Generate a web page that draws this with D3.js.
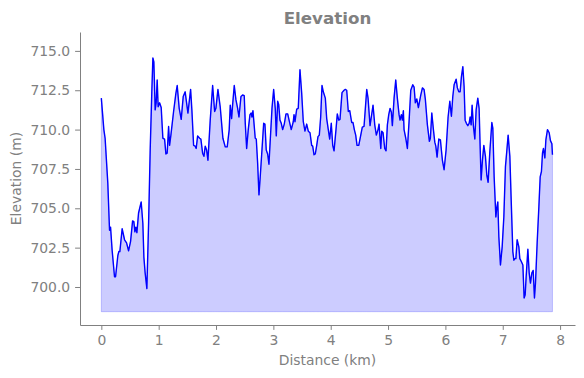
<!DOCTYPE html>
<html>
<head>
<meta charset="utf-8">
<script src="https://cdn.jsdelivr.net/npm/d3@7"></script>
<style>
  body { margin: 0; background: #fff; }
  text { font-family: "DejaVu Sans", sans-serif; }
</style>
</head>
<body>
<div id="chart"></div>
<script>
// distance along the route (km)
const distanceKm = [
  0.000, 0.044, 0.066, 0.113, 0.143, 0.161, 0.188, 0.230, 0.248, 0.288,
  0.305, 0.323, 0.363, 0.405, 0.440, 0.475, 0.510, 0.545, 0.567, 0.585,
  0.602, 0.620, 0.649, 0.695, 0.724, 0.742, 0.764, 0.794, 0.824, 0.852,
  0.881, 0.899, 0.916, 0.939, 0.956, 0.974, 0.991, 1.016, 1.044, 1.073,
  1.103, 1.126, 1.148, 1.173, 1.190, 1.213, 1.260, 1.300, 1.323, 1.358,
  1.393, 1.428, 1.462, 1.510, 1.557, 1.579, 1.609, 1.637, 1.654, 1.679,
  1.714, 1.736, 1.766, 1.789, 1.812, 1.836, 1.859, 1.899, 1.941, 1.976,
  1.998, 2.033, 2.073, 2.120, 2.161, 2.195, 2.230, 2.248, 2.272, 2.290,
  2.318, 2.347, 2.377, 2.400, 2.435, 2.464, 2.492, 2.510, 2.534, 2.562,
  2.592, 2.614, 2.627, 2.644, 2.667, 2.684, 2.702, 2.726, 2.749, 2.771,
  2.801, 2.831, 2.853, 2.876, 2.900, 2.923, 2.946, 2.976, 3.005, 3.033,
  3.051, 3.075, 3.093, 3.115, 3.138, 3.162, 3.190, 3.220, 3.250, 3.277,
  3.312, 3.347, 3.360, 3.377, 3.407, 3.434, 3.464, 3.494, 3.522, 3.551,
  3.581, 3.609, 3.639, 3.668, 3.686, 3.709, 3.731, 3.756, 3.778, 3.801,
  3.825, 3.848, 3.871, 3.906, 3.930, 3.958, 3.982, 4.010, 4.035, 4.058,
  4.092, 4.115, 4.140, 4.162, 4.197, 4.232, 4.255, 4.279, 4.307, 4.332,
  4.366, 4.389, 4.412, 4.436, 4.459, 4.489, 4.524, 4.551, 4.581, 4.628,
  4.651, 4.686, 4.708, 4.738, 4.768, 4.796, 4.825, 4.843, 4.873, 4.890,
  4.913, 4.942, 4.965, 4.988, 5.012, 5.035, 5.058, 5.075, 5.105, 5.134,
  5.162, 5.192, 5.209, 5.232, 5.250, 5.267, 5.279, 5.309, 5.337, 5.366,
  5.396, 5.431, 5.454, 5.476, 5.501, 5.529, 5.571, 5.599, 5.628, 5.651,
  5.686, 5.721, 5.738, 5.763, 5.791, 5.815, 5.833, 5.855, 5.885, 5.913,
  5.930, 5.948, 5.977, 6.012, 6.047, 6.077, 6.105, 6.129, 6.152, 6.187,
  6.209, 6.234, 6.257, 6.279, 6.304, 6.326, 6.344, 6.366, 6.391, 6.414,
  6.431, 6.449, 6.466, 6.489, 6.513, 6.536, 6.565, 6.588, 6.606, 6.623,
  6.646, 6.670, 6.698, 6.722, 6.745, 6.775, 6.810, 6.827, 6.850, 6.880,
  6.897, 6.914, 6.932, 6.960, 6.990, 7.019, 7.047, 7.072, 7.094, 7.124,
  7.147, 7.176, 7.194, 7.211, 7.229, 7.251, 7.281, 7.298, 7.326, 7.351,
  7.373, 7.391, 7.408, 7.438, 7.461, 7.483, 7.508, 7.531, 7.553, 7.571,
  7.600, 7.630, 7.653, 7.675, 7.693, 7.710, 7.734, 7.752, 7.780, 7.810,
  7.832, 7.857, 7.867
];

// elevation at each point (m)
const elevationM = [
  712.0, 710.0, 709.45, 706.6, 703.6, 703.8, 702.35, 700.65, 700.65, 702.0,
  702.25, 702.25, 703.7, 703.0, 702.8, 702.3, 702.9, 704.2, 704.15, 703.5,
  703.8, 703.45, 704.7, 705.4, 704.05, 701.9, 700.9, 699.9, 704.05, 708.7,
  712.5, 714.55, 714.3, 711.25, 711.7, 713.15, 711.45, 711.7, 711.4, 709.45,
  709.4, 708.45, 708.5, 710.2, 709.0, 709.65, 711.15, 712.3, 712.8, 711.35,
  710.65, 712.1, 712.4, 711.05, 712.55, 711.25, 709.0, 708.95, 708.8, 709.6,
  709.45, 709.4, 708.5, 708.3, 708.95, 708.7, 708.05, 710.6, 712.8, 711.15,
  711.35, 712.55, 711.45, 709.45, 708.9, 708.9, 710.0, 711.55, 710.7, 711.6,
  712.8, 711.9, 711.35, 710.8, 712.1, 712.2, 712.15, 710.4, 708.8, 710.0,
  710.95, 711.05, 710.8, 711.2, 710.2, 709.45, 709.4, 707.85, 705.85, 707.0,
  708.7, 710.4, 710.35, 708.7, 708.45, 707.8, 709.35, 711.35, 712.55, 711.35,
  709.6, 711.8, 711.6, 710.6, 710.4, 710.0, 710.35, 711.0, 711.0, 710.55,
  710.0, 710.5, 710.95, 710.5, 711.3, 711.35, 713.8, 712.3, 710.5, 709.9,
  710.35, 709.9, 709.8, 709.0, 708.95, 708.4, 708.45, 709.0, 709.55, 709.65,
  710.8, 712.8, 712.4, 712.0, 710.7, 710.0, 709.4, 710.4, 709.0, 708.65,
  710.0, 711.0, 710.6, 710.65, 712.35, 712.5, 712.55, 712.5, 711.15, 711.2,
  710.45, 710.45, 710.0, 709.65, 709.0, 709.0, 709.65, 710.15, 710.2, 712.55,
  712.0, 710.25, 710.8, 711.55, 710.3, 709.65, 710.0, 710.35, 708.8, 709.9,
  709.8, 708.8, 708.65, 710.3, 710.95, 711.35, 711.1, 710.25, 712.0, 713.15,
  712.0, 710.95, 710.6, 710.95, 710.6, 711.2, 710.0, 709.45, 708.8, 710.5,
  712.5, 712.85, 712.7, 711.7, 711.95, 711.4, 712.2, 712.65, 712.55, 711.9,
  710.3, 709.25, 709.45, 711.05, 710.0, 709.2, 708.95, 708.25, 709.4, 709.35,
  708.7, 708.05, 707.45, 708.7, 710.8, 711.8, 710.85, 712.1, 712.85, 713.2,
  712.65, 712.4, 712.4, 713.35, 714.0, 712.75, 710.6, 710.4, 710.25, 710.4,
  710.8, 710.3, 711.55, 710.2, 709.4, 711.25, 712.0, 711.35, 708.9, 706.8,
  708.05, 709.0, 708.3, 707.1, 706.65, 708.6, 710.45, 710.1, 707.0, 704.45,
  705.05, 705.4, 703.2, 701.4, 702.55, 704.45, 707.65, 708.7, 709.65, 708.3,
  705.55, 702.25, 701.7, 701.8, 701.8, 703.0, 702.55, 701.8, 701.6, 701.4,
  699.3, 699.5, 700.65, 702.4, 700.9, 700.25, 700.9, 701.05, 699.3, 700.25,
  702.8, 705.1, 707.0, 707.35, 708.5, 708.8, 708.2, 709.35, 710.0, 709.8,
  709.3, 709.1, 708.4
];

const fillBase = 698.43;
const xTicks = [0, 1, 2, 3, 4, 5, 6, 7, 8];
const yTicks = [700, 702.5, 705, 707.5, 710, 712.5, 715];
const xDomain = [-0.372, 8.26];
const yDomain = [697.585, 716.2];

const width = 584, height = 378;
const margin = {top: 32, right: 9, bottom: 53, left: 80};
const grey = "#808080";

const svg = d3.select("#chart").append("svg")
    .attr("width", width)
    .attr("height", height);

const xScale = d3.scaleLinear()
    .domain(xDomain)
    .range([margin.left, width - margin.right]);

const yScale = d3.scaleLinear()
    .domain(yDomain)
    .range([height - margin.bottom, margin.top]);

const data = distanceKm.map((d, i) => ({dist: d, elev: elevationM[i]}));

// filled area under the profile
let area = d3.area()
    .x(d => xScale(d.dist))
    .y0(yScale(fillBase))
    .y1(d => yScale(d.elev));

svg.append("path")
    .datum(data)
    .attr("d", area)
    .attr("fill", "rgba(0,0,255,0.2)")
    .attr("stroke", "rgba(0,0,255,0.2)")
    .attr("stroke-width", 1);

let line = d3.line()
    .x(d => xScale(d.dist))
    .y(d => yScale(d.elev));

svg.append("path")
    .datum(data)
    .attr("d", line)
    .attr("fill", "none")
    .attr("stroke", "#0000ff")
    .attr("stroke-width", 1.4)
    .attr("stroke-linejoin", "round");

// axes
let xAxis = d3.axisBottom(xScale)
    .tickValues(xTicks)
    .tickFormat(d3.format("d"))
    .tickSizeInner(4.9)
    .tickSizeOuter(0)
    .tickPadding(4.9);

let yAxis = d3.axisLeft(yScale)
    .tickValues(yTicks)
    .tickFormat(d3.format(".1f"))
    .tickSizeInner(4.9)
    .tickSizeOuter(0)
    .tickPadding(4.9);

let gx = svg.append("g")
    .attr("transform", "translate(0," + (height - margin.bottom) + ")")
    .call(xAxis);

let gy = svg.append("g")
    .attr("transform", "translate(" + margin.left + ",0)")
    .call(yAxis);

[gx, gy].forEach(g => {
    g.select(".domain").attr("stroke", grey).attr("stroke-width", 1);
    g.selectAll(".tick line").attr("stroke", grey).attr("stroke-width", 1);
    g.selectAll(".tick text")
        .attr("fill", grey)
        .style("font-size", "13.9px")
        .style("font-family", "DejaVu Sans, sans-serif");
});

// labels
svg.append("text")
    .attr("x", (margin.left + width - margin.right) / 2)
    .attr("y", 24)
    .attr("text-anchor", "middle")
    .attr("fill", grey)
    .style("font-size", "16.7px")
    .style("font-weight", "bold")
    .text("Elevation");

svg.append("text")
    .attr("x", (margin.left + width - margin.right) / 2)
    .attr("y", 365)
    .attr("text-anchor", "middle")
    .attr("fill", grey)
    .style("font-size", "13.9px")
    .text("Distance (km)");

svg.append("text")
    .attr("transform", "translate(21," + ((margin.top + height - margin.bottom) / 2) + ") rotate(-90)")
    .attr("text-anchor", "middle")
    .attr("fill", grey)
    .style("font-size", "13.9px")
    .text("Elevation (m)");
</script>
</body>
</html>
